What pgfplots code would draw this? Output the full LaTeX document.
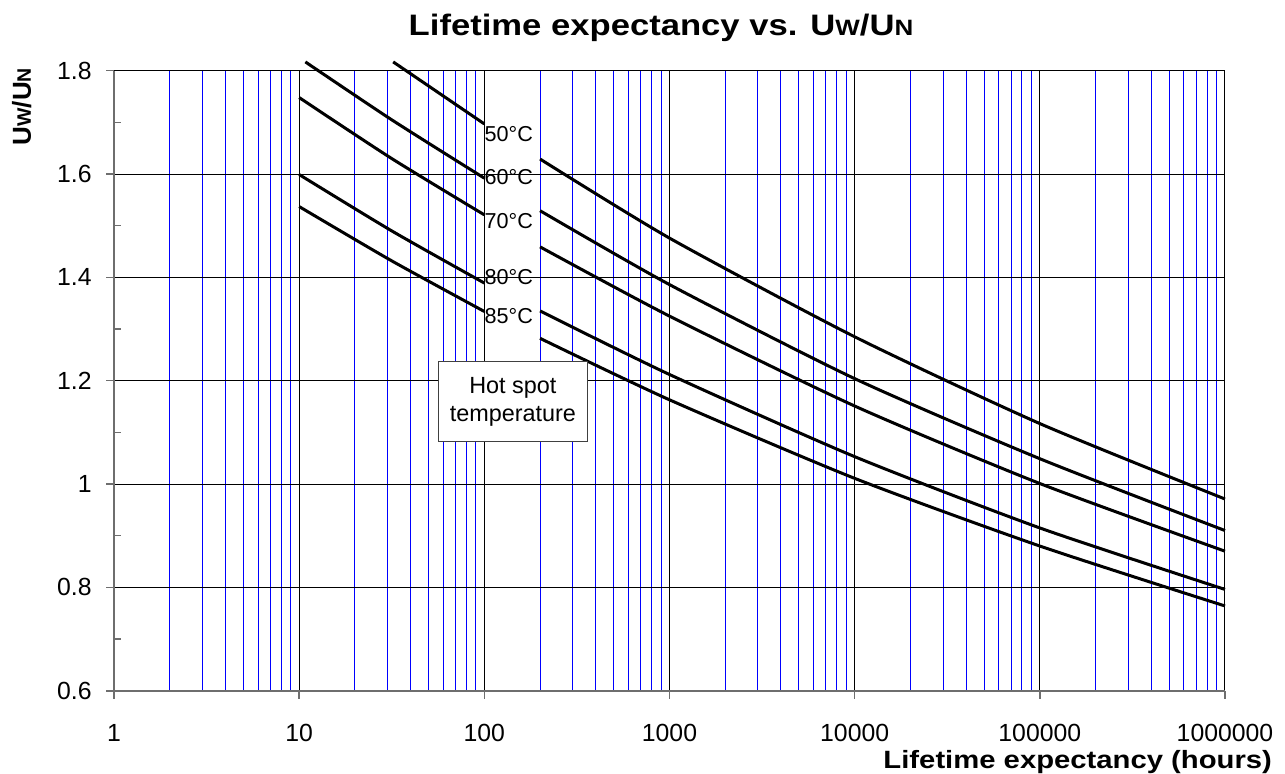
\documentclass[border=0pt]{standalone}
\usepackage{fontspec}
\setmainfont{Liberation Sans}
\newfontfamily\widebf[FakeStretch=1.17]{Liberation Sans}
\usepackage{pgfplots}
\pgfplotsset{compat=1.18}
\definecolor{gridblue}{RGB}{0,0,255}
\definecolor{axgray}{RGB}{110,110,110}
\newcommand{\sm}[1]{{\fontsize{0.75\dimexpr\fontdimen6\font\relax}{0pt}\selectfont #1}}
\newcommand{\tl}[1]{\textnormal{\fontsize{12.4bp}{14bp}\selectfont #1}}
\pgfplotsset{curve/.style={black, solid, line width=1.5bp, no markers, smooth, tension=0.4}}
\begin{document}
\begin{tikzpicture}
\path[use as bounding box] (-57bp,-41.65bp) rectangle (585.5bp,345.35bp);
\begin{axis}[
  at={(0,0)}, anchor=south west,
  width=555.5bp, height=310bp, scale only axis,
  xmode=log, log basis x=10,
  xmin=1, xmax=1000000, ymin=0.6, ymax=1.8,
  xtick={1,10,100,1000,10000,100000,1000000},
  xticklabels={\tl{1},\tl{10},\tl{100},\tl{1000},\tl{10000},\tl{100000},\tl{1000000}},
  minor xtick={2,3,4,5,6,7,8,9,
    20,30,40,50,60,70,80,90,
    200,300,400,500,600,700,800,900,
    2000,3000,4000,5000,6000,7000,8000,9000,
    20000,30000,40000,50000,60000,70000,80000,90000,
    200000,300000,400000,500000,600000,700000,800000,900000},
  ytick={0.6,0.8,1,1.2,1.4,1.6,1.8},
  yticklabels={\tl{0.6},\tl{0.8},\tl{1},\tl{1.2},\tl{1.4},\tl{1.6},\tl{1.8}},
  extra y ticks={0.7,0.9,1.1,1.3,1.5,1.7},
  extra y tick labels={},
  extra y tick style={grid=none, tick align=inside, major tick length=3.5bp},
  axis x line*=bottom, axis y line*=left,
  axis line style={draw=axgray, line width=0.8bp, -},
  tick style={draw=axgray, line width=0.8bp},
  tick align=outside, major tick length=4bp, minor tick length=0pt,
  xmajorgrids=true, xminorgrids=true, ymajorgrids=true,
  major grid style={draw=black, line width=0.5bp},
  minor grid style={draw=gridblue, line width=0.5bp},
  xticklabel style={anchor=base, yshift=-21.6bp},
  yticklabel style={anchor=east, inner sep=0pt, xshift=-7bp},
  clip=false]

% left parts, 10 to 100 hours
\addplot[curve] coordinates {(32.2,1.817) (100,1.697)};
\addplot[curve] coordinates {(10.8,1.817) (31.6,1.705) (100,1.592)};
\addplot[curve] coordinates {(10,1.748) (31.6,1.630) (100,1.521)};
\addplot[curve] coordinates {(10,1.599) (31.6,1.490) (100,1.389)};
\addplot[curve] coordinates {(10,1.537) (31.6,1.432) (100,1.334)};

% right parts, 200 to 1000000 hours
\addplot[curve] coordinates {(200,1.629) (1000,1.476) (10000,1.285) (100000,1.117) (1000000,0.971)};
\addplot[curve] coordinates {(200,1.529) (1000,1.386) (10000,1.204) (100000,1.049) (1000000,0.910)};
\addplot[curve] coordinates {(200,1.459) (1000,1.325) (10000,1.151) (100000,1.001) (1000000,0.870)};
\addplot[curve] coordinates {(200,1.335) (1000,1.212) (10000,1.053) (100000,0.915) (1000000,0.796)};
\addplot[curve] coordinates {(200,1.282) (1000,1.163) (10000,1.011) (100000,0.880) (1000000,0.764)};

\begin{scope}[every node/.style={anchor=west, inner sep=0pt,
    font=\fontsize{10.8bp}{12bp}\selectfont}]
\node at (axis cs:100,1.677) {50°C};
\node at (axis cs:100,1.595) {60°C};
\node at (axis cs:100,1.5095) {70°C};
\node at (axis cs:100,1.400) {80°C};
\node at (axis cs:100,1.326) {85°C};
\end{scope}

\node[draw=black!75, line width=0.5bp, fill=white, align=center,
  minimum width=74.8bp, minimum height=40bp, inner sep=0pt,
  font=\fontsize{11.7bp}{14bp}\selectfont]
  at (axis cs:142.6,1.159) {Hot spot\\temperature};
\end{axis}

\node[anchor=base, font=\widebf\bfseries\fontsize{14.8bp}{16bp}\selectfont]
  at (273.5bp,327.5bp) {Lifetime expectancy vs. U\sm{W}/U\sm{N}};
\node[anchor=base east, font=\widebf\bfseries\fontsize{12.5bp}{14bp}\selectfont]
  at (582.5bp,-38.65bp) {Lifetime expectancy (hours)};
\node[anchor=base east, rotate=90, font=\bfseries\fontsize{13bp}{14bp}\selectfont]
  at (-41.5bp,314.85bp) {U\sm{W}/U\sm{N}};
\end{tikzpicture}
\end{document}
